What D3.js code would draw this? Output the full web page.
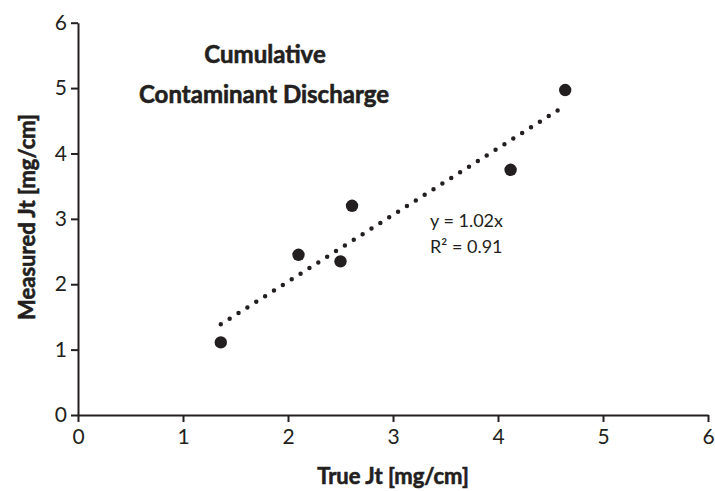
<!DOCTYPE html>
<html><head><meta charset="utf-8">
<script src="https://cdn.jsdelivr.net/npm/d3@7"></script>
<style>body{margin:0;background:#fff}svg{display:block}</style>
</head><body>
<script>
const trueJt = [1.36, 2.10, 2.50, 2.61, 4.12, 4.64];
const measuredJt = [1.11, 2.45, 2.35, 3.20, 3.75, 4.97];
const slope = 1.02;
const xTicks = [0,1,2,3,4,5,6];
const yTicks = [0,1,2,3,4,5,6];

const W=715,H=491;
const svg=d3.select("body").append("svg").attr("width",W).attr("height",H);
const x=d3.scaleLinear().domain([0,6]).range([78,708]);
const y=d3.scaleLinear().domain([0,6]).range([415,22.7]);
const font="Lato, 'Open Sans', sans-serif";
const col="#231f20";

const xa=svg.append("g").attr("transform",`translate(0,${y(0)})`)
  .call(d3.axisBottom(x).tickValues(xTicks).tickSize(7).tickSizeOuter(0).tickPadding(7).tickFormat(d3.format("d")));
const ya=svg.append("g").attr("transform",`translate(${x(0)},0)`)
  .call(d3.axisLeft(y).tickValues(yTicks).tickSize(7).tickSizeOuter(0).tickPadding(4).tickFormat(d3.format("d")));
[xa,ya].forEach(a=>{
  a.selectAll("path,line").attr("stroke",col).attr("stroke-width",2);
  a.selectAll("text").attr("fill",col).style("font-family",font).style("font-size","21px");
});

const xs=d3.extent(trueJt);
svg.append("line").attr("x1",x(xs[0])).attr("y1",y(slope*xs[0]))
  .attr("x2",x(xs[1])).attr("y2",y(slope*xs[1]))
  .attr("stroke",col).attr("stroke-width",4.5).attr("stroke-linecap","round")
  .attr("stroke-dasharray","0,10.5");

svg.selectAll("circle.pt").data(trueJt).enter().append("circle")
  .attr("cx",d=>x(d)).attr("cy",(d,i)=>y(measuredJt[i])).attr("r",6.2).attr("fill",col);

function bold(sel,size){
  return sel.style("font-family",font).style("font-weight","bold").style("font-size",size)
    .attr("fill",col).attr("stroke",col).attr("stroke-width",0.6);
}
bold(svg.append("text").attr("x",265).attr("y",63).attr("text-anchor","middle"),"24px").text("Cumulative");
bold(svg.append("text").attr("x",264).attr("y",103).attr("text-anchor","middle"),"24px").text("Contaminant Discharge");

svg.append("text").attr("x",430).attr("y",227)
  .style("font-family",font).style("font-size","18px").attr("fill",col).text("y = 1.02x");
svg.append("text").attr("x",430).attr("y",253)
  .style("font-family",font).style("font-size","18px").attr("fill",col).text("R² = 0.91");

bold(svg.append("text").attr("x",393).attr("y",484).attr("text-anchor","middle"),"22px").text("True Jt [mg/cm]");
bold(svg.append("text").attr("transform","translate(35,217) rotate(-90)").attr("text-anchor","middle"),"22px").text("Measured Jt [mg/cm]");
</script>
</body></html>
